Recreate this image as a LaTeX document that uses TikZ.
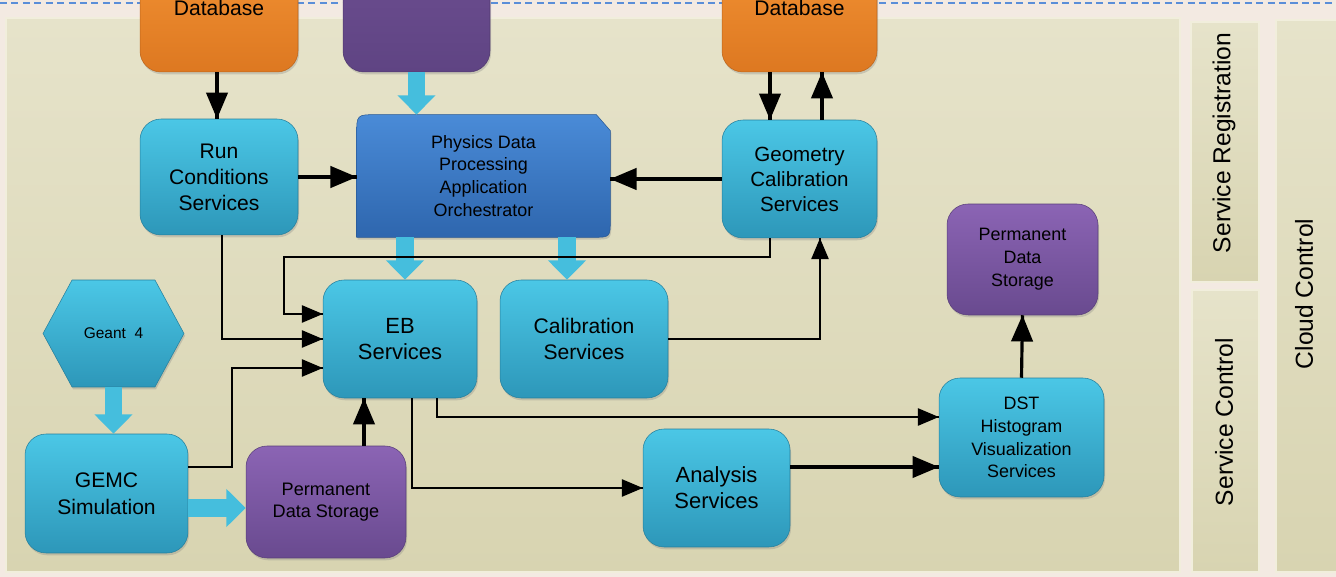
\documentclass[tikz,border=0pt]{standalone}
\usepackage{fontspec}
\setmainfont{Liberation Sans}
\usepackage{tikz}
\usetikzlibrary{arrows,arrows.meta,calc,shadows,shapes.symbols,backgrounds,decorations.markings}

\definecolor{paper}{HTML}{F3EAE2}
\definecolor{dashcol}{HTML}{5A8ED8}
\definecolor{panelhi}{HTML}{E6E3CA}
\definecolor{panello}{HTML}{D8D4B1}
\definecolor{panelrim}{HTML}{F1EEDC}
\definecolor{cyanhi}{HTML}{4BC7E6}
\definecolor{cyanlo}{HTML}{2D97B9}
\definecolor{dbhi}{HTML}{F49435}
\definecolor{dblo}{HTML}{DD7821}
\definecolor{srchi}{HTML}{6E4F92}
\definecolor{srclo}{HTML}{5F4483}
\definecolor{storehi}{HTML}{8B64B4}
\definecolor{storelo}{HTML}{694A8F}
\definecolor{orchhi}{HTML}{4A8BD7}
\definecolor{orchlo}{HTML}{2E66AE}
\definecolor{pipecol}{HTML}{45BEDD}

\tikzstyle {service node} = [rectangle, rounded corners=0.42cm, top color=cyanhi, bottom color=cyanlo,
  draw=cyanlo!85!black, line width=0.3pt, align=center, inner sep=2pt,
  font=\fontsize{12}{14.8}\selectfont,
  drop shadow={opacity=0.3, shadow xshift=0.6pt, shadow yshift=-1.3pt}]
\tikzstyle {db node} = [service node, top color=dbhi, bottom color=dblo, draw=dblo!85!black]
\tikzstyle {source node} = [service node, top color=srchi, bottom color=srclo, draw=srclo!85!black]
\tikzstyle {store node} = [service node, top color=storehi, bottom color=storelo, draw=storelo!85!black,
  font=\fontsize{10.2}{13}\selectfont]
\tikzstyle {side label} = [rotate=90, font=\fontsize{14}{16}\selectfont]
\tikzset{flow/.style = {line width=1.8pt, decoration={markings,mark=at position 1 with %
            {\arrow[scale=1.25,>=triangle 45]{>}}},postaction={decorate}}}
\tikzset{link/.style = {flow, line width=1.2pt}}
\tikzset{pipe/.style = {line width=10pt, color=pipecol, -{Triangle[length=11pt,width=21pt]}}}

\begin{document}
\begin{tikzpicture}[x=0.02cm, y=-0.02cm]
\useasboundingbox (0,0) rectangle (1336,577);
\begin{scope}[on background layer]
  \fill[paper] (0,0) rectangle (1336,577);
  \draw[dashcol, line width=1pt, dash pattern=on 4pt off 2.5pt] (0,3) -- (1336,3);
  \shade[top color=panelhi, bottom color=panello, draw=panelrim, line width=1.5pt] (6,18) rectangle (1180,572);
  \shade[top color=panelhi, bottom color=panello, draw=panelrim, line width=1.5pt] (1191,22) rectangle (1259,282);
  \shade[top color=panelhi, bottom color=panello, draw=panelrim, line width=1.5pt] (1192,290) rectangle (1259,572);
  \shade[top color=panelhi, bottom color=panello, draw=panelrim, line width=1.5pt] (1276,20) rectangle (1350,572);
\end{scope}

\node[side label] (sreg) at (1224,143) {Service Registration};
\node[side label] (sctl) at (1224,422) {Service Control};
\node[side label] (cctl) at (1304,294) {Cloud Control};

% top row
\node[db node, minimum width=3.16cm, minimum height=2.56cm] (condb) at (219,8) {Database};
\node[source node, minimum width=2.94cm, minimum height=2.56cm] (source) at (416.5,8) {};
\node[db node, minimum width=3.1cm, minimum height=2.56cm] (geodb) at (799.5,8) {Database};

% services
\node[service node, minimum width=3.16cm, minimum height=2.32cm] (runcond) at (219,177) {Run\\Conditions\\Services};
\node[align=center, minimum width=5.06cm, minimum height=2.44cm, font=\fontsize{10.2}{13}\selectfont]
  (pdpao) at (483.5,176) {Physics Data\\Processing\\ Application\\Orchestrator};
\node[service node, minimum width=3.1cm, minimum height=2.36cm, font=\fontsize{11.7}{14.2}\selectfont]
  (geocal) at (799.5,179) {Geometry\\Calibration\\Services};
\node[store node, minimum width=3.02cm, minimum height=2.22cm] (pdsright) at (1022.5,259.5) {Permanent\\Data\\Storage};
\node[service node, minimum width=3.08cm, minimum height=2.36cm, font=\fontsize{12.5}{15.2}\selectfont]
  (ebserv) at (400,339) {EB\\Services};
\node[service node, minimum width=3.36cm, minimum height=2.36cm] (calserv) at (584,339) {Calibration\\Services};
\node[service node, shape=signal, signal to=east and west, signal pointer angle=123, rounded corners=0pt,
  minimum width=2.82cm, minimum height=2.14cm, font=\fontsize{8.8}{11}\selectfont] (geant) at (113.5,333.5) {Geant~ 4};
\node[service node, minimum width=3.26cm, minimum height=2.38cm, font=\fontsize{12}{15.2}\selectfont]
  (gemc) at (106.5,493.5) {GEMC\\Simulation};
\node[store node, minimum width=3.2cm, minimum height=2.24cm, font=\fontsize{10.3}{12.4}\selectfont]
  (pdsbottom) at (326,502) {Permanent\\Data Storage};
\node[service node, minimum width=2.94cm, minimum height=2.36cm, font=\fontsize{12.5}{14.8}\selectfont]
  (analysis) at (716.5,488) {Analysis\\Services};
\node[service node, minimum width=3.3cm, minimum height=2.38cm, font=\fontsize{10.2}{13}\selectfont]
  (dst) at (1021.5,437.5) {DST\\Histogram\\Visualization\\Services};

\begin{scope}[on background layer]
  \shade[top color=orchhi, bottom color=orchlo, draw=orchlo!85!black, line width=0.3pt,
    drop shadow={opacity=0.3, shadow xshift=0.6pt, shadow yshift=-1.3pt}]
    (pdpao.south west) -- ($(pdpao.north west)+(0,20)$) .. controls (pdpao.north west) .. ($(pdpao.north west)+(20,0)$)
    -- ($(pdpao.north east)+(-14,0)$) -- ($(pdpao.north east)+(0,16)$)
    -- ($(pdpao.south east)+(0,-18)$) .. controls (pdpao.south east) .. ($(pdpao.south east)+(-18,0)$) -- cycle;
\end{scope}

% block arrows
\draw[pipe] (source.south) -- (source.south |- pdpao.north);
\draw[pipe] ([xshift=0.1cm]ebserv.north |- pdpao.south) -- ([xshift=0.1cm]ebserv.north);
\draw[pipe] ([xshift=-0.34cm]calserv.north |- pdpao.south) -- ([xshift=-0.34cm]calserv.north);
\draw[pipe] (geant.south) -- (geant.south |- gemc.north);
\draw[pipe] ([yshift=-0.29cm]gemc.east) -- ([yshift=-0.29cm]gemc.east -| pdsbottom.west);

% connectors
\draw[flow] ([xshift=-0.04cm]condb.south) -- ([xshift=-0.04cm]runcond.north);
\draw[flow] ([xshift=-0.59cm]geodb.south) -- ([xshift=-0.59cm]geocal.north);
\draw[flow] ([xshift=0.45cm]geocal.north) -- ([xshift=0.45cm]geodb.south);
\draw[flow] (runcond.east) -- (runcond.east -| pdpao.west);
\draw[flow] (geocal.west) -- (geocal.west -| pdpao.east);
\draw[link] ([xshift=-0.59cm]geocal.south) -- ++(0,19) -| ($(ebserv.west)+(-39,-25)$) -- ($(ebserv.west)+(0,-25)$);
\draw[link] ([xshift=0.06cm]runcond.south) |- (ebserv.west);
\draw[link] ([yshift=0.53cm]gemc.east) -| ($(ebserv.west)+(-91,29)$) -- ($(ebserv.west)+(0,29)$);
\draw[link] (calserv.east) -| ([xshift=0.41cm]geocal.south);
\draw[flow] ([xshift=0.76cm]pdsbottom.north) -- ([xshift=0.76cm]pdsbottom.north |- ebserv.south);
\draw[link] ([xshift=0.24cm]ebserv.south) |- (analysis.west);
\draw[link] ([xshift=0.74cm]ebserv.south) |- ([yshift=0.41cm]dst.west);
\draw[flow] ([yshift=0.42cm]analysis.east) -- ([yshift=0.42cm]analysis.east -| dst.west);
\draw[flow] (dst.north) -- (pdsright.south);
\end{tikzpicture}
\end{document}
